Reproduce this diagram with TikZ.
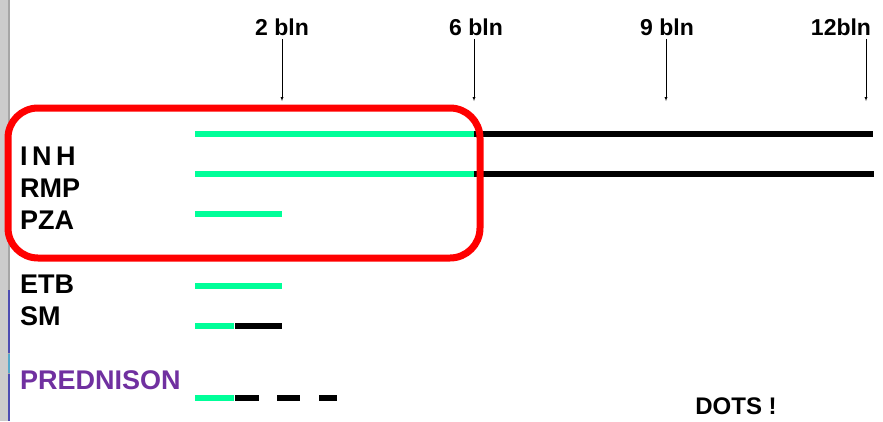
\documentclass[tikz,border=0pt]{standalone}
\usepackage{fontspec}
\setmainfont{Liberation Sans}
\usetikzlibrary{positioning,arrows}
\definecolor{drugGreen}{RGB}{0,255,153}
\definecolor{predPurple}{RGB}{112,48,160}

\begin{document}
\begin{tikzpicture}[x=1pt,y=-1pt,
        drug/.style={anchor=base west, inner sep=0pt, font=\fontsize{27}{30}\selectfont\bfseries},
        month/.style={anchor=base, font=\fontsize{23}{26}\selectfont\bfseries},
        tick/.style={-latex, thin},
        early/.style={drugGreen, line width=6pt},
        late/.style={black, line width=6pt}]
                \useasboundingbox (0,0) rectangle (883,421);
                % slide edge on the left
                \fill[gray!40] (0,0) rectangle (9,421);
                \draw[gray!70, line width=1.5pt] (9,0) -- (9,421);
                \draw[blue!40!gray, line width=1.5pt] (9,290) -- (9,353);
                \draw[cyan!60!gray, line width=1.5pt] (9,354) -- (9,373);
                \draw[blue!40!gray, line width=1.5pt] (9,374) -- (9,421);
                % months
                \node[month] (m2) at (282,35) {2 bln};
                \node[month] (m6) at (476,35) {6 bln};
                \node[month] (m9) at (667,35) {9 bln};
                \node[month] (m12) at (841,35) {12bln};
                \coordinate (a2) at (282,101);
                \coordinate (a6) at (474,101);
                \coordinate (a9) at (666,101);
                \coordinate (a12) at (866,101);
                \foreach \m in {2,6,9,12}
                    \draw [tick] (m\m.south -| a\m) -- (a\m);
                % drugs
                \node[drug] (inh) at (20,165) {I\,N\,H};
                \node[drug] (rmp) at (20,197) {RMP};
                \node[drug] (pza) at (20,229) {PZA};
                \node[drug] (etb) at (20,293) {ETB};
                \node[drug] (sm) at (20,325) {SM};
                \node[drug, text=predPurple] (pred) at (20,389) {PREDNISON};
                % treatment bars
                \draw [early] (195,134) -- (474,134);
                \draw [late] (474,134) -- (873,134);
                \draw [early] (195,174) -- (474,174);
                \draw [late] (474,174) -- (874,174);
                \draw [early] (195,214) -- (282,214);
                \draw [early] (195,286) -- (282,286);
                \draw [early] (195,326) -- (234,326);
                \draw [late] (235,326) -- (282,326);
                \draw [early] (195,398) -- (234,398);
                \draw [late] (235,398) -- (259,398);
                \draw [late] (277,398) -- (300,398);
                \draw [late] (319,398) -- (337,398);
                % intensive phase
                \draw [red, line width=7pt, rounded corners=30pt] (8,108) rectangle (480,258);
                \node[month, inner sep=0pt, font=\fontsize{24}{27}\selectfont\bfseries] (dots) at (736,414) {DOTS !};
            \end{tikzpicture}
\end{document}
